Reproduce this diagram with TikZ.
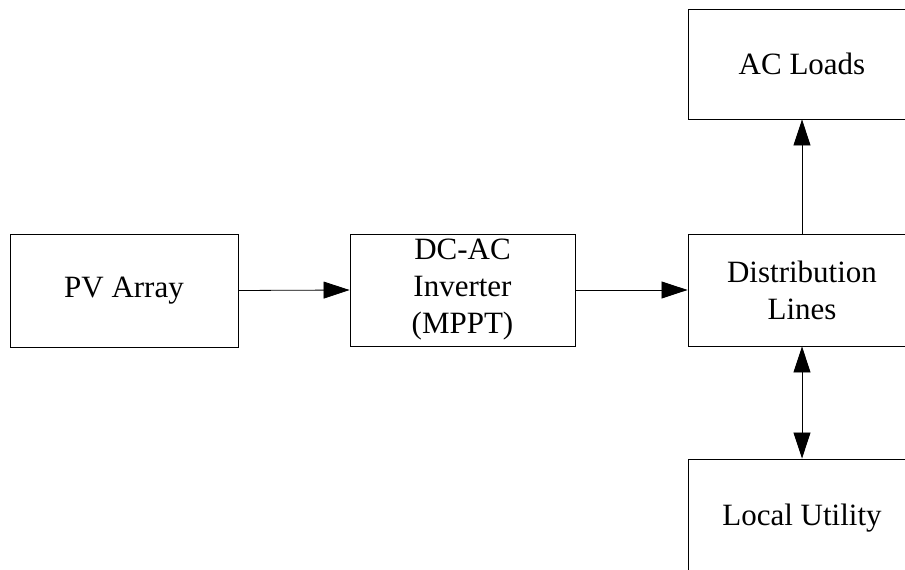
\documentclass[tikz,border=0pt]{standalone}
\usepackage{fontspec}
\setmainfont{Liberation Serif}
\usetikzlibrary{arrows.meta}
\begin{document}
\begin{tikzpicture}[x=1pt,y=1pt,
  block/.style={draw,line width=0.9pt,minimum width=228pt,inner sep=0pt,
    align=center,font=\fontsize{31}{37}\selectfont},
  tip/.style={Triangle[length=26pt,width=17pt]},
  link/.style={line width=0.8pt,-{Triangle[length=26pt,width=17pt]}},
  twoway/.style={line width=0.8pt,{Triangle[length=26pt,width=17pt]}-{Triangle[length=26pt,width=17pt]}}]
  \useasboundingbox (0,0) rectangle (905,570);
  \clip (0,0) rectangle (905,570);
  \fill[white] (0,0) rectangle (905,570);
  % main power path
  \node[block,minimum height=113pt] (pv) at (124,279.5) {PV Array};
  \node[block,minimum width=225pt,minimum height=112pt] (inv) at (462.5,280) {DC-AC\\Inverter\\(MPPT)};
  \node[block,minimum height=112pt] (dist) at (802,280) {Distribution\\Lines};
  % loads and grid
  \node[block,minimum height=110pt] (ac) at (802,506) {AC Loads};
  \node[block,minimum height=118pt] (lu) at (802,52) {Local Utility};
  % connectors
  \draw[link] (pv.east) -- (inv.west);
  \draw[link] (inv.east) -- (dist.west);
  \draw[link] (dist.north) -- (ac.south);
  \draw[twoway] (dist.south) -- (lu.north);
\end{tikzpicture}
\end{document}
